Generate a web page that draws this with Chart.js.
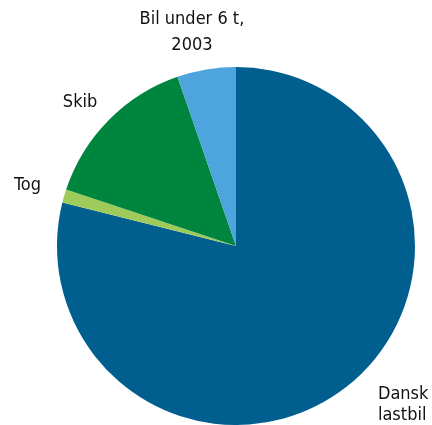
<!DOCTYPE html>
<html>
<head>
<meta charset="utf-8">
<script src="https://cdn.jsdelivr.net/npm/chart.js@4"></script>
<style>
  html, body { margin: 0; padding: 0; background: #fff; }
  #wrap { width: 432px; height: 425px; }
</style>
</head>
<body>
<div id="wrap"><canvas id="chart"></canvas></div>
<script>
var labels = [['Dansk', 'lastbil'], ['Tog'], ['Skib'], ['Bil under 6 t,', '2003']];
var shares = [78.9, 1.2, 14.6, 5.3];
var colors = ['#005f8f', '#9fcb5a', '#00853f', '#4ea5dd'];

// label placement per slice: offset from pie centre in units of radius, alignment, line gap
var labelSpots = [
    { dx: 0.793, dy: 0.885, align: 'left', gap: 21 },
    { dx: -1.165, dy: -0.341, align: 'center', gap: 22 },
    { dx: -0.871, dy: -0.80, align: 'center', gap: 22 },
    { dx: -0.246, dy: -1.193, align: 'center', gap: 26 }
];

var outsideLabels = {
    id: 'outsideLabels',
    afterDraw: function (chart) {
        var ctx = chart.ctx;
        var meta = chart.getDatasetMeta(0);
        ctx.save();
        ctx.font = '18px "Liberation Sans Narrow", "DejaVu Sans Condensed", sans-serif';
        ctx.fillStyle = '#111';
        ctx.textBaseline = 'middle';
        meta.data.forEach(function (arc, i) {
            var r = arc.outerRadius;
            var spot = labelSpots[i];
            var x = arc.x + spot.dx * r;
            var y = arc.y + spot.dy * r;
            var lines = labels[i];
            ctx.textAlign = spot.align;
            lines.forEach(function (line, j) {
                ctx.fillText(line, x, y + (j - (lines.length - 1) / 2) * spot.gap);
            });
        });
        ctx.restore();
    }
};

var ctx = document.getElementById('chart').getContext('2d');
new Chart(ctx, {
    type: 'pie',
    data: {
        labels: labels.map(function (l) { return l.join(' '); }),
        datasets: [{
            data: shares,
            backgroundColor: colors,
            borderWidth: 0
        }]
    },
    options: {
        responsive: true,
        maintainAspectRatio: false,
        animation: false,
        layout: { padding: { top: 67, left: 57, right: 17, bottom: 0 } },
        plugins: {
            legend: { display: false },
            tooltip: { enabled: false }
        }
    },
    plugins: [outsideLabels]
});
</script>
</body>
</html>
